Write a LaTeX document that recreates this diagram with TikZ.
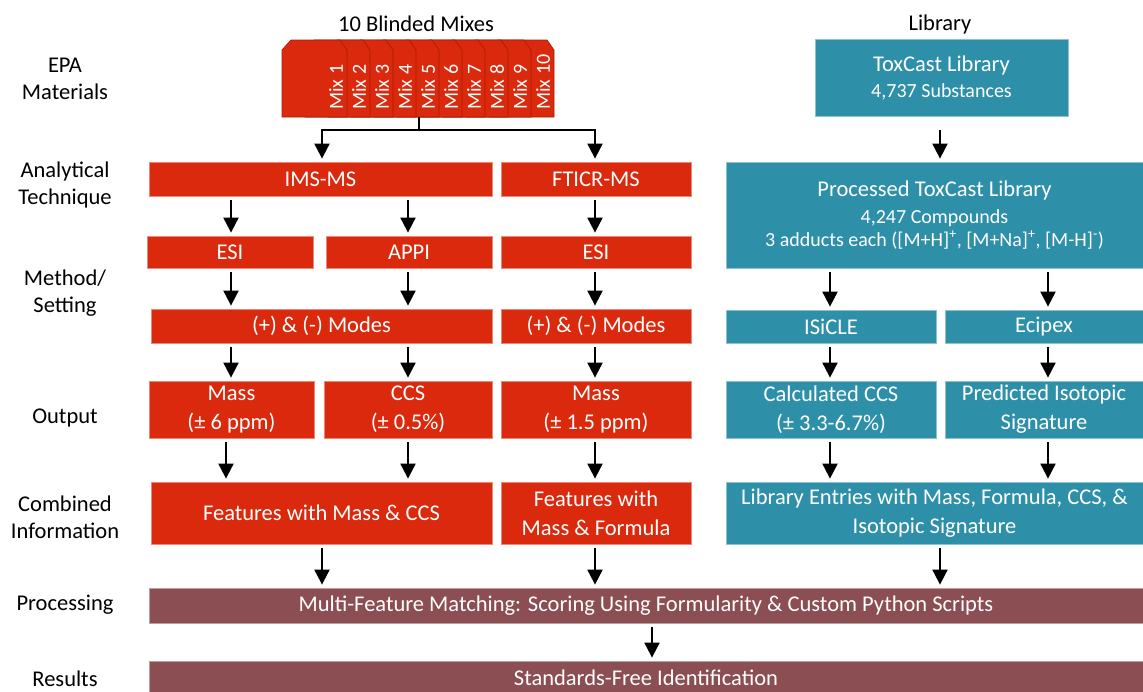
\documentclass[tikz,border=0pt]{standalone}
\usepackage{fontspec}
\setmainfont{Carlito}
\usetikzlibrary{arrows.meta}
\definecolor{cred}{RGB}{218,41,12}
\definecolor{cteal}{RGB}{46,144,168}
\definecolor{cmaroon}{RGB}{139,78,82}
\definecolor{cdark}{RGB}{170,28,8}
\newcommand{\myfb}{\fontsize{22.5}{29}\selectfont}
\newcommand{\myfs}{\fontsize{20}{24}\selectfont}
\newcommand{\myfl}{\fontsize{22.5}{27}\selectfont}
\newcommand{\myfm}{\fontsize{20}{24}\selectfont}
\begin{document}
\begin{tikzpicture}[x=1pt,y=-1pt,
  box/.style={inner sep=0pt, align=center, text=white, font=\myfb, line width=0.8pt},
  rbox/.style={box, fill=cred, draw=cred!55!white},
  tbox/.style={box, fill=cteal, draw=cteal!55!white},
  mbox/.style={box, fill=cmaroon, draw=cmaroon!55!white},
  lab/.style={align=center, font=\myfl, text=black, inner sep=0pt},
  arr/.style={line width=2pt, -{Triangle[width=15pt,length=15pt]}, shorten <=4pt, shorten >=3pt},
  conn/.style={line width=2pt},
  mixcard/.style={fill=cred, draw=cdark, line width=0.7pt},
  mixlab/.style={rotate=90, anchor=west, inner sep=0pt, text=white, font=\myfm}
]
\useasboundingbox (0,0) rectangle (1143,691);

% column x coordinates
\coordinate (xa) at (231,0);
\coordinate (xb) at (408,0);
\coordinate (xc) at (595,0);
\coordinate (xd) at (226,0);
\coordinate (xf) at (322,0);
\coordinate (xg) at (830,0);
\coordinate (xh) at (1048,0);
\coordinate (xi) at (940,0);
\coordinate (xj) at (652,0);

% left labels
\node[lab] (l1) at (65,78.5) {EPA\\Materials};
\node[lab] (l2) at (65,184.5) {Analytical\\Technique};
\node[lab] (l3) at (65,293) {Method/\\Setting};
\node[lab] (l4) at (65,418) {Output};
\node[lab] (l5) at (65,517.5) {Combined\\Information};
\node[lab] (l6) at (65,605) {Processing};
\node[lab] (l7) at (65,678.5) {Results};

% headers
\node[lab] (h1) at (416,24) {10 Blinded Mixes};
\node[lab] (h2) at (940,24) {Library};

% mix cards
\foreach \i in {10,...,1} {
  \pgfmathsetmacro\L{282+23*(\i-1)}
  \pgfmathsetmacro\R{\L+65}
  \path[mixcard] (\L,117) -- (\L,50) -- (\L+9,40) -- (\R-7,40) -- (\R,50) -- (\R,117) -- cycle;
  \node[mixlab] (mix\i) at (\R-11,110) {Mix \i};
}
\coordinate (mixbot) at (419,117);

% red column
\node[rbox, minimum width=343pt, minimum height=34pt] (ims) at (320.5,179) {IMS-MS};
\node[rbox, minimum width=190pt, minimum height=34pt] (fticr) at (596,179) {FTICR-MS};
\node[rbox, minimum width=166pt, minimum height=32pt] (esi1) at (230,252) {ESI};
\node[rbox, minimum width=166pt, minimum height=32pt] (appi) at (409,252) {APPI};
\node[rbox, minimum width=190pt, minimum height=32pt] (esi2) at (596,252) {ESI};
\node[rbox, minimum width=341pt, minimum height=34pt] (modes1) at (321.5,326) {(+) \& (-) Modes};
\node[rbox, minimum width=190pt, minimum height=34pt] (modes2) at (596,326) {(+) \& (-) Modes};
\node[rbox, minimum width=165pt, minimum height=57pt] (mass1) at (231.5,409.5) {Mass\\(± 6 ppm)};
\node[rbox, minimum width=168pt, minimum height=57pt] (ccs) at (408,409.5) {CCS\\(± 0.5\%)};
\node[rbox, minimum width=190pt, minimum height=57pt] (mass2) at (596,409.5) {Mass\\(± 1.5 ppm)};
\node[rbox, minimum width=341pt, minimum height=62pt] (feat1) at (321.5,513) {Features with Mass \& CCS};
\node[rbox, minimum width=190pt, minimum height=62pt] (feat2) at (596,513) {Features with\\Mass \& Formula};

% teal column
\node[tbox, minimum width=253pt, minimum height=77pt] (toxcast) at (941.5,77.5) {ToxCast Library\\[-3pt]{\myfs 4,737 Substances}};
\node[tbox, minimum width=417pt, minimum height=106pt] (proc) at (934.5,215) {Processed ToxCast Library\\[-2pt]{\myfs 4,247 Compounds}\\[-6pt]{\myfs 3 adducts each ([M+H]\textsuperscript{+}, [M+Na]\textsuperscript{+}, [M-H]\textsuperscript{-})}};
\node[tbox, minimum width=210pt, minimum height=33pt] (isicle) at (831,326.5) {ISiCLE};
\node[tbox, minimum width=198pt, minimum height=33pt] (ecipex) at (1044,326.5) {Ecipex};
\node[tbox, minimum width=210pt, minimum height=57pt] (calc) at (831,409.5) {Calculated CCS\\(± 3.3-6.7\%)};
\node[tbox, minimum width=198pt, minimum height=57pt] (pred) at (1044,409.5) {Predicted Isotopic\\Signature};
\node[tbox, minimum width=417pt, minimum height=62pt] (lib) at (934.5,513) {Library Entries with Mass, Formula, CCS, \&\\Isotopic Signature};

% bottom
\node[mbox, minimum width=994pt, minimum height=35pt] (multi) at (646,605.5) {Multi-Feature Matching: Scoring Using Formularity \& Custom Python Scripts};
\node[mbox, minimum width=994pt, minimum height=39pt] (std) at (646,680.5) {};
\node[box, font=\myfb] (stdtext) at (646,678) {Standards-Free Identification};

% top connector
\coordinate (jm) at (419,130);
\coordinate (jl) at (322,130);
\coordinate (jr) at (595,130);
\draw[conn] (mixbot) -- (jm);
\draw[arr, shorten <=0pt] (jm) -- (jl) -- (jl |- ims.north);
\draw[arr, shorten <=0pt] (jm) -- (jr) -- (jr |- fticr.north);

% arrows red side
\draw[arr] (ims.south -| xa) -- (esi1.north -| xa);
\draw[arr] (ims.south -| xb) -- (appi.north -| xb);
\draw[arr] (fticr.south -| xc) -- (esi2.north -| xc);
\draw[arr] (esi1.south -| xa) -- (modes1.north -| xa);
\draw[arr] (appi.south -| xb) -- (modes1.north -| xb);
\draw[arr] (esi2.south -| xc) -- (modes2.north -| xc);
\draw[arr] (modes1.south -| xa) -- (mass1.north -| xa);
\draw[arr] (modes1.south -| xb) -- (ccs.north -| xb);
\draw[arr] (modes2.south -| xc) -- (mass2.north -| xc);
\draw[arr] (mass1.south -| xd) -- (feat1.north -| xd);
\draw[arr] (ccs.south -| xb) -- (feat1.north -| xb);
\draw[arr] (mass2.south -| xc) -- (feat2.north -| xc);
\draw[arr] (feat1.south -| xf) -- (multi.north -| xf);
\draw[arr] (feat2.south -| xc) -- (multi.north -| xc);

% arrows teal side
\draw[arr, shorten <=14pt] (toxcast.south -| xi) -- (proc.north -| xi);
\draw[arr] (proc.south -| xg) -- (isicle.north -| xg);
\draw[arr] (proc.south -| xh) -- (ecipex.north -| xh);
\draw[arr] (isicle.south -| xg) -- (calc.north -| xg);
\draw[arr] (ecipex.south -| xh) -- (pred.north -| xh);
\draw[arr] (calc.south -| xg) -- (lib.north -| xg);
\draw[arr] (pred.south -| xh) -- (lib.north -| xh);
\draw[arr] (lib.south -| xi) -- (multi.north -| xi);

% bottom arrow
\draw[arr] (multi.south -| xj) -- (std.north -| xj);
\end{tikzpicture}
\end{document}
